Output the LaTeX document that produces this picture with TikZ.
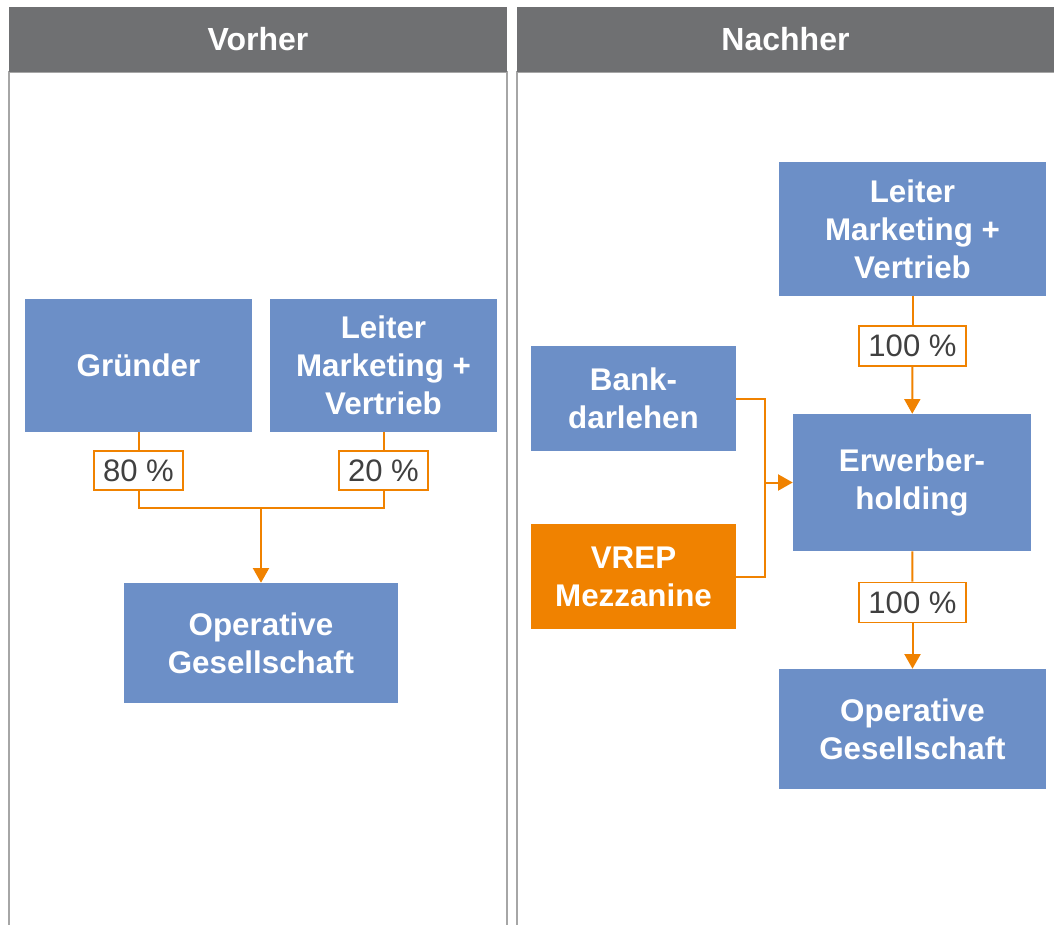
\documentclass[tikz,border=0pt]{standalone}
\usepackage{fontspec}
\setmainfont{Liberation Sans}
\usepackage{tikz}
\usetikzlibrary{calc, arrows.meta}
\usepackage{xcolor}

\definecolor{boxblue}{RGB}{108,143,199}
\definecolor{vrorange}{RGB}{240,130,0}
\definecolor{headgray}{RGB}{111,112,114}
\definecolor{framegray}{RGB}{166,166,166}
\definecolor{pcttext}{RGB}{64,64,64}

\tikzset{
  entity/.style={fill=boxblue, text=white, inner sep=0pt, align=center,
    font=\fontsize{23.5}{28.5}\selectfont\bfseries},
  share/.style={draw=vrorange, line width=1.3pt, fill=white, text=pcttext, inner sep=0pt,
    font=\fontsize{23.3}{26}\selectfont},
  header/.style={fill=headgray, text=white, inner sep=0pt,
    font=\fontsize{24}{28}\selectfont\bfseries},
  flow/.style={draw=vrorange, line width=1.5pt},
  flowarrow/.style={flow, -{Triangle[width=12pt,length=11pt]}}
}

\begin{document}
\begin{tikzpicture}[x=0.75pt, y=-0.75pt]
  \useasboundingbox (0,0) rectangle (1054,925);

  % Panels
  \draw[framegray, line width=1.2pt] (9,925) -- (9,72) -- (507,72) -- (507,925);
  \draw[framegray, line width=1.2pt] (517,925) -- (517,72) -- (1054,72);
  \node[header, minimum width=373.5pt, minimum height=48.75pt] (vorher) at (258,39.5) {Vorher};
  \node[header, minimum width=402.75pt, minimum height=48.75pt] (nachher) at (785.5,39.5) {Nachher};

  % Nodes (Vorher)
  \node[entity, minimum width=170.25pt, minimum height=99.75pt] (gruender) at (138.5,365.5) {Gründer};
  \node[entity, minimum width=170.25pt, minimum height=99.75pt] (leiterA) at (383.5,365.5) {Leiter\\Marketing +\\Vertrieb};
  \node[entity, minimum width=205.5pt, minimum height=90pt] (operativA) at (261,643) {Operative\\Gesellschaft};
  \node[share, minimum width=66.75pt, minimum height=29.25pt] (p80) at (138.5,470.5) {80 \%};
  \node[share, minimum width=66.75pt, minimum height=29.25pt] (p20) at (383.5,470.5) {20 \%};
  \coordinate (joinA) at (261,508);

  % Nodes (Nachher)
  \node[entity, minimum width=200.25pt, minimum height=100.5pt] (leiterB) at (912.5,229) {Leiter\\Marketing +\\Vertrieb};
  \node[entity, minimum width=178.5pt, minimum height=102.75pt] (erwerber) at (912,482.5) {Erwerber-\\holding};
  \node[entity, minimum width=200.25pt, minimum height=90pt] (operativB) at (912.5,729) {Operative\\Gesellschaft};
  \node[entity, minimum width=153.75pt, minimum height=78.75pt] (bank) at (633.5,398.5) {Bank-\\darlehen};
  \node[entity, fill=vrorange, minimum width=153.75pt, minimum height=78.75pt] (vrep) at (633.5,576.5) {VREP\\Mezzanine};
  \node[share, minimum width=80.25pt, minimum height=30pt] (p100a) at (912.5,346) {100 \%};
  \node[share, minimum width=80.25pt, minimum height=30pt] (p100b) at (912.5,602.5) {100 \%};
  \coordinate (joinB) at (765,482.5);

  \draw[flow] (gruender) -- (p80);
  \draw[flow] (leiterA) -- (p20);
  \draw[flow] (p80) |- (joinA);
  \draw[flow] (p20) |- (joinA);
  \draw[flowarrow] (joinA) -- (operativA);

  \draw[flow] (leiterB) -- (p100a);
  \draw[flowarrow] (p100a) -- (erwerber);
  \draw[flow] (erwerber) -- (p100b);
  \draw[flowarrow] (p100b) -- (operativB);
  \draw[flow] (bank.east) -| (joinB);
  \draw[flow] (vrep.east) -| (joinB);
  \draw[flowarrow] (joinB) -- (erwerber);
\end{tikzpicture}
\end{document}
